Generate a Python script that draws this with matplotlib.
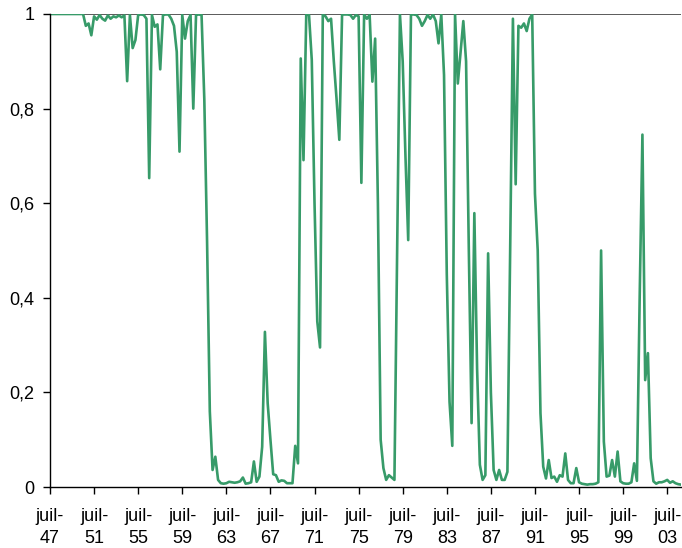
import matplotlib
matplotlib.use("Agg")
import matplotlib.pyplot as plt

# quarterly series, first point = juil-47
values = [
    1.0, 1.0, 1.0, 1.0, 1.0, 1.0, 1.0, 1.0, 1.0, 1.0,          # 0-9
    1.0, 1.0, 1.0, 0.975, 0.98, 0.955, 0.995, 0.988, 0.998, 0.99,  # 10-19
    0.986, 0.997, 0.99, 0.995, 0.993, 0.997, 0.993, 0.997, 0.858, 0.998,  # 20-29
    0.928, 0.945, 0.998, 0.999, 0.998, 0.99, 0.653, 0.998, 0.973, 0.978,  # 30-39
    0.883, 0.998, 0.999, 0.999, 0.99, 0.975, 0.92, 0.709, 0.998, 0.948,  # 40-49
    0.985, 0.998, 0.80, 0.998, 0.999, 0.998, 0.82, 0.52, 0.16, 0.036,  # 50-59
    0.064, 0.015, 0.008, 0.007, 0.008, 0.011, 0.01, 0.009, 0.01, 0.012,  # 60-69
    0.02, 0.007, 0.008, 0.01, 0.054, 0.011, 0.022, 0.085, 0.328, 0.177,  # 70-79
    0.1, 0.027, 0.025, 0.011, 0.014, 0.013, 0.008, 0.008, 0.008, 0.087,  # 80-89
    0.05, 0.906, 0.691, 0.999, 0.998, 0.903, 0.6, 0.35, 0.295, 0.999,  # 90-99
    0.995, 0.985, 0.99, 0.9, 0.82, 0.734, 0.999, 0.999, 0.999, 0.998,  # 100-109
    0.99, 0.998, 0.995, 0.643, 0.999, 0.99, 0.998, 0.857, 0.948, 0.6,  # 110-119
    0.1, 0.04, 0.015, 0.025, 0.02, 0.015, 0.5, 0.999, 0.9, 0.7,  # 120-129
    0.522, 0.999, 0.999, 0.998, 0.99, 0.975, 0.985, 0.998, 0.99, 0.999,  # 130-139
    0.985, 0.938, 0.999, 0.871, 0.45, 0.18, 0.087, 0.999, 0.853, 0.92,  # 140-149
    0.985, 0.9, 0.5, 0.135, 0.579, 0.25, 0.047, 0.015, 0.025, 0.494,  # 150-159
    0.2, 0.036, 0.015, 0.036, 0.015, 0.015, 0.032, 0.5, 0.99, 0.64,  # 160-169
    0.975, 0.971, 0.98, 0.964, 0.99, 0.999, 0.62, 0.5, 0.156, 0.043,  # 170-179
    0.018, 0.057, 0.019, 0.022, 0.011, 0.025, 0.022, 0.071, 0.015, 0.008,  # 180-189
    0.008, 0.04, 0.01, 0.007, 0.006, 0.005, 0.006, 0.006, 0.007, 0.01,  # 190-199
    0.5, 0.096, 0.022, 0.024, 0.057, 0.022, 0.075, 0.012, 0.008, 0.007,  # 200-209
    0.007, 0.01, 0.05, 0.013, 0.4, 0.745, 0.226, 0.283, 0.061, 0.012,  # 210-219
    0.007, 0.01, 0.01, 0.012, 0.015, 0.009, 0.012, 0.008, 0.006, 0.005,  # 220-229
]

tick_labels = ["juil-\n47", "juil-\n51", "juil-\n55", "juil-\n59", "juil-\n63",
               "juil-\n67", "juil-\n71", "juil-\n75", "juil-\n79", "juil-\n83",
               "juil-\n87", "juil-\n91", "juil-\n95", "juil-\n99", "juil-\n03"]
y_ticks = [0, 0.2, 0.4, 0.6, 0.8, 1]
y_labels = ["0", "0,2", "0,4", "0,6", "0,8", "1"]

plt.rcParams['font.family'] = ['Liberation Sans', 'DejaVu Sans']

fig = plt.figure(figsize=(6.82, 5.48), dpi=100)
ax = fig.add_axes([50 / 682, 1 - 487 / 548, 631 / 682, 473 / 548])

ax.plot(range(len(values)), values, color='#379b69', linewidth=1.9)
ax.axhline(1, color='#5a5a5a', linewidth=1.4, zorder=0)

ax.set_xlim(0, len(values) - 1)
ax.set_ylim(0, 1)
ax.set_xticks(range(0, 16 * len(tick_labels), 16))
ax.set_xticklabels(tick_labels, fontsize=13, linespacing=1.4)
ax.set_yticks(y_ticks)
ax.set_yticklabels(y_labels, fontsize=13)

for side in ['top', 'right']:
    ax.spines[side].set_visible(False)
for side in ['left', 'bottom']:
    ax.spines[side].set_linewidth(1.0)
ax.tick_params(axis='both', direction='out', length=5, width=1.0)
ax.tick_params(axis='x', pad=10)
ax.tick_params(axis='y', pad=6)

fig.savefig('out.png', dpi=100)
